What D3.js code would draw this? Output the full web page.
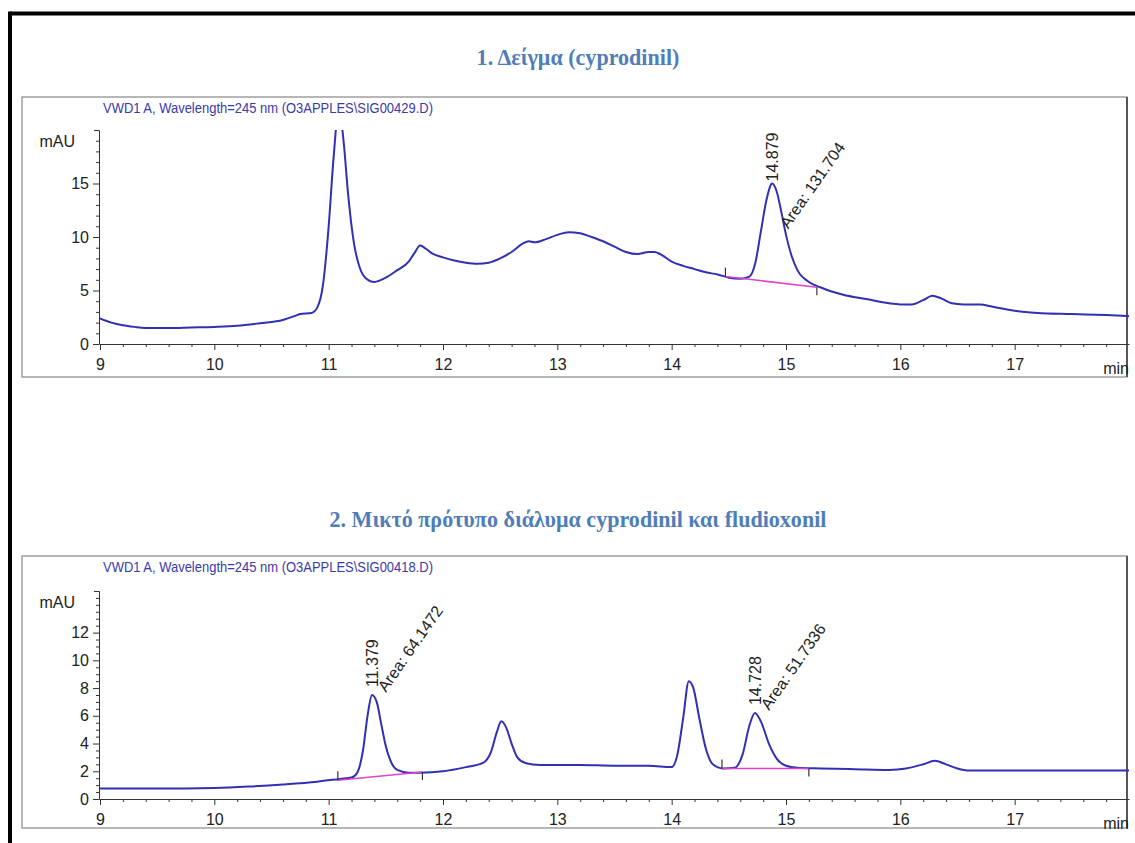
<!DOCTYPE html>
<html>
<head>
<meta charset="utf-8">
<script src="https://cdn.jsdelivr.net/npm/d3@7"></script>
<style>
  body { margin: 0; background: #fff; }
  svg text { font-family: "Liberation Sans Narrow", "Liberation Sans", Arial, sans-serif; }
  .title { font-family: "Liberation Serif", "Times New Roman", serif !important; font-weight: bold; fill: #4f7db8; }
</style>
</head>
<body>
<svg id="chart" width="1135" height="843"></svg>
<script>
// retention time axis (min)
var timeTicks = [9, 10, 11, 12, 13, 14, 15, 16, 17];

// 1. sample chromatogram
var sampleTime = [9.0, 9.1, 9.2, 9.3, 9.4, 9.6, 9.8, 10.0, 10.2, 10.4, 10.6, 10.7, 10.75, 10.85, 10.9, 10.95,
  11.0, 11.04, 11.09, 11.13, 11.17, 11.22, 11.27, 11.32, 11.4, 11.5, 11.6, 11.7, 11.75, 11.8, 11.85, 11.9,
  12.0, 12.1, 12.2, 12.3, 12.4, 12.5, 12.6, 12.7, 12.75, 12.8, 12.9, 13.0, 13.1, 13.2, 13.3, 13.4, 13.5,
  13.6, 13.7, 13.8, 13.85, 13.9, 14.0, 14.1, 14.2, 14.3, 14.4, 14.5, 14.6, 14.68, 14.73, 14.78, 14.83,
  14.879, 14.92, 14.96, 15.0, 15.05, 15.1, 15.2, 15.3, 15.4, 15.5, 15.7, 15.9, 16.0, 16.1, 16.2, 16.28,
  16.35, 16.45, 16.55, 16.7, 16.8, 16.9, 17.0, 17.2, 17.5, 17.8, 18.0];
var sampleSignal = [2.4, 2.0, 1.75, 1.6, 1.5, 1.5, 1.55, 1.6, 1.7, 1.95, 2.25, 2.6, 2.8, 2.9, 3.4, 5.5,
  11, 17, 22, 19, 14, 9.5, 7.2, 6.2, 5.8, 6.2, 6.9, 7.7, 8.5, 9.2, 8.9, 8.5,
  8.1, 7.8, 7.6, 7.5, 7.6, 8.0, 8.6, 9.4, 9.6, 9.5, 9.8, 10.2, 10.45, 10.35, 10.0, 9.6, 9.1,
  8.6, 8.4, 8.6, 8.6, 8.4, 7.7, 7.3, 7.0, 6.7, 6.5, 6.2, 6.1, 6.3, 7.5, 10.5, 13.5,
  15.0, 14.2, 12.3, 10.2, 8.2, 6.9, 5.8, 5.3, 4.9, 4.6, 4.2, 3.8, 3.7, 3.7, 4.1, 4.5,
  4.3, 3.8, 3.7, 3.7, 3.5, 3.3, 3.1, 2.9, 2.8, 2.7, 2.6];
var samplePeakTime = [14.879];
var samplePeakHeight = [15.0];
var samplePeakArea = ["131.704"];
var sampleBaseStart = [[14.47, 6.3]];
var sampleBaseEnd = [[15.27, 5.3]];

// 2. mixed standard chromatogram
var mixTime = [9.0, 9.5, 10.0, 10.3, 10.6, 10.9, 11.1, 11.2, 11.25, 11.3, 11.34, 11.379, 11.42, 11.46, 11.5,
  11.55, 11.6, 11.7, 11.8, 12.0, 12.2, 12.35, 12.42, 12.47, 12.51, 12.55, 12.6, 12.65, 12.72, 12.85, 13.0,
  13.2, 13.5, 13.8, 14.0, 14.05, 14.1, 14.15, 14.19, 14.24, 14.3, 14.36, 14.45, 14.55, 14.62, 14.68,
  14.728, 14.78, 14.85, 14.92, 15.0, 15.1, 15.3, 15.6, 15.9, 16.05, 16.2, 16.3, 16.4, 16.5, 16.6, 17.0, 18.0];
var mixSignal = [0.75, 0.75, 0.8, 0.9, 1.05, 1.25, 1.45, 1.55, 1.9, 3.5, 6.0, 7.5, 7.0, 5.4, 3.8,
  2.6, 2.1, 1.9, 1.9, 2.0, 2.3, 2.6, 3.4, 4.8, 5.6, 5.2, 4.0, 3.0, 2.6, 2.45, 2.45,
  2.45, 2.4, 2.4, 2.3, 3.2, 5.8, 8.5, 8.0, 5.9, 3.6, 2.5, 2.2, 2.25, 3.2, 5.3,
  6.2, 5.6, 4.0, 2.9, 2.4, 2.25, 2.2, 2.15, 2.1, 2.2, 2.5, 2.75, 2.5, 2.2, 2.05, 2.05, 2.05];
var mixPeakTime = [11.379, 14.728];
var mixPeakHeight = [7.5, 6.2];
var mixPeakArea = ["64.1472", "51.7336"];
var mixBaseStart = [[11.08, 1.35], [14.44, 2.2]];
var mixBaseEnd = [[11.82, 1.95], [15.2, 2.2]];

var panels = [
  { title: "1. Δείγμα (cyprodinil)", titleY: 65,
    header: "VWD1 A, Wavelength=245 nm (O3APPLES\\SIG00429.D)",
    boxTop: 97, boxBottom: 377, y0: 344, yTop: 130, yMax: 20,
    yMajor: [0, 5, 10, 15], yMinorStep: 1, areaDx: 10, areaDy: 46, rtDy: -2,
    time: sampleTime, signal: sampleSignal, peakTime: samplePeakTime, peakHeight: samplePeakHeight,
    peakArea: samplePeakArea, baseStart: sampleBaseStart, baseEnd: sampleBaseEnd },
  { title: "2. Μικτό πρότυπο διάλυμα cyprodinil και fludioxonil", titleY: 527,
    header: "VWD1 A, Wavelength=245 nm (O3APPLES\\SIG00418.D)",
    boxTop: 556, boxBottom: 828, y0: 799, yTop: 591, yMax: 15,
    yMajor: [0, 2, 4, 6, 8, 10, 12], yMinorStep: 0.5, areaDx: 8, areaDy: -2, rtDy: -8,
    time: mixTime, signal: mixSignal, peakTime: mixPeakTime, peakHeight: mixPeakHeight,
    peakArea: mixPeakArea, baseStart: mixBaseStart, baseEnd: mixBaseEnd }
];

var traceColor = "#3030b4";
var baseColor = "#dd44cc";
var svg = d3.select("#chart");

// outer frame
svg.append("line").attr("x1", 10).attr("x2", 1135).attr("y1", 13.5).attr("y2", 13.5)
  .attr("stroke", "#000").attr("stroke-width", 4);
svg.append("line").attr("x1", 10).attr("x2", 10).attr("y1", 11.5).attr("y2", 843)
  .attr("stroke", "#000").attr("stroke-width", 4);

var x = d3.scaleLinear().domain([9, 18]).range([100, 1129]);

panels.forEach(function(p, i) {
  var y = d3.scaleLinear().domain([0, p.yMax]).range([p.y0, p.yTop]);
  var g = svg.append("g");

  g.append("text").attr("class", "title")
    .attr("x", 578).attr("y", p.titleY)
    .attr("text-anchor", "middle").style("font-size", "24px")
    .attr("transform", "translate(578," + p.titleY + ") scale(0.92,1) translate(-578," + (-p.titleY) + ")")
    .text(p.title);

  // panel box
  g.append("rect").attr("x", 22).attr("y", p.boxTop)
    .attr("width", 1105).attr("height", p.boxBottom - p.boxTop)
    .attr("fill", "none").attr("stroke", "#888").attr("stroke-width", 1.2);
  g.append("line").attr("x1", 1127).attr("x2", 1127).attr("y1", p.boxTop).attr("y2", p.boxBottom)
    .attr("stroke", "#555").attr("stroke-width", 2);

  g.append("text").attr("x", 103).attr("y", p.boxTop + 16)
    .attr("fill", "#3a3aa8").style("font-size", "15px")
    .attr("textLength", 330).attr("lengthAdjust", "spacingAndGlyphs")
    .text(p.header);

  // x axis: major and minor ticks
  var minorX = d3.range(9, 18.01, 0.2).filter(function(t) { return Math.abs(t - Math.round(t)) > 0.01; });
  g.append("g").attr("transform", "translate(0," + p.y0 + ")")
    .call(d3.axisBottom(x).tickValues(minorX).tickSize(3).tickFormat(""))
    .call(function(a) { a.select(".domain").remove(); });
  var xa = g.append("g").attr("transform", "translate(0," + p.y0 + ")")
    .call(d3.axisBottom(x).tickValues(timeTicks).tickSize(6).tickSizeOuter(0).tickPadding(9)
      .tickFormat(d3.format("d")));
  xa.selectAll("text").style("font-size", "16px").attr("fill", "#222");

  g.append("text").attr("x", 1129).attr("y", p.y0 + 30)
    .attr("text-anchor", "end").style("font-size", "16px").attr("fill", "#222")
    .text("min");

  // y axis
  var minorY = d3.range(0, p.yMax + 0.001, p.yMinorStep).filter(function(v) { return p.yMajor.indexOf(v) < 0; });
  g.append("g").attr("transform", "translate(99,0)")
    .call(d3.axisLeft(y).tickValues(minorY).tickSize(3).tickFormat(""))
    .call(function(a) { a.select(".domain").remove(); });
  var ya = g.append("g").attr("transform", "translate(99,0)")
    .call(d3.axisLeft(y).tickValues(p.yMajor).tickSize(6).tickSizeOuter(5).tickPadding(4)
      .tickFormat(d3.format("d")));
  ya.selectAll("text").style("font-size", "16px").attr("fill", "#222");
  g.selectAll(".tick line, .domain").attr("stroke", "#333");

  g.append("text").attr("x", 75).attr("y", p.yTop + 17)
    .attr("text-anchor", "end").style("font-size", "16px").attr("fill", "#222")
    .text("mAU");

  // trace, clipped to the plot area
  g.append("clipPath").attr("id", "clip" + i).append("rect")
    .attr("x", 100).attr("y", p.yTop).attr("width", 1029).attr("height", p.y0 - p.yTop);
  var pts = p.time.map(function(t, k) { return [t, p.signal[k]]; });
  var line = d3.line().x(function(d) { return x(d[0]); }).y(function(d) { return y(d[1]); })
    .curve(d3.curveMonotoneX);
  g.append("path").datum(pts).attr("clip-path", "url(#clip" + i + ")")
    .attr("d", line).attr("fill", "none")
    .attr("stroke", traceColor).attr("stroke-width", 2);

  // integration baselines
  p.baseStart.forEach(function(s, k) {
    var e = p.baseEnd[k];
    g.append("line").attr("x1", x(s[0])).attr("y1", y(s[1])).attr("x2", x(e[0])).attr("y2", y(e[1]))
      .attr("stroke", baseColor).attr("stroke-width", 1.5);
    g.append("line").attr("x1", x(s[0])).attr("x2", x(s[0])).attr("y1", y(s[1])).attr("y2", y(s[1]) - 9)
      .attr("stroke", "#333").attr("stroke-width", 1.2);
    g.append("line").attr("x1", x(e[0])).attr("x2", x(e[0])).attr("y1", y(e[1])).attr("y2", y(e[1]) + 8)
      .attr("stroke", "#333").attr("stroke-width", 1.2);
  });

  // peak labels
  p.peakTime.forEach(function(t, k) {
    var px = x(t), py = y(p.peakHeight[k]);
    g.append("text").attr("transform", "translate(" + (px + 6) + "," + (py + p.rtDy) + ") rotate(-90)")
      .style("font-size", "16px").attr("fill", "#222")
      .text(t.toFixed(3));
    g.append("text").attr("transform", "translate(" + (px + p.areaDx + 6) + "," + (py + p.areaDy) + ") rotate(-55)")
      .style("font-size", "16px").attr("fill", "#222")
      .text("Area: " + p.peakArea[k]);
  });
});
</script>
</body>
</html>
